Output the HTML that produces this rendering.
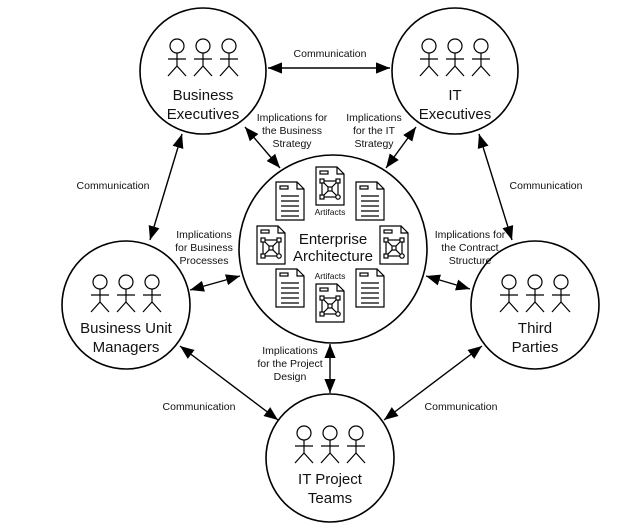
<!DOCTYPE html>
<html><head><meta charset="utf-8"><style>
html,body{margin:0;padding:0;background:#fff;}
svg{display:block;font-family:"Liberation Sans",sans-serif;}
</style></head><body>
<svg width="636" height="526" viewBox="0 0 636 526" xmlns="http://www.w3.org/2000/svg">
<defs>
<marker id="a" viewBox="0 0 10 10" refX="10" refY="5" markerWidth="10" markerHeight="10" orient="auto-start-reverse"><path d="M0,1 L10,5 L0,9z" fill="#000"/></marker>
<g id="p" fill="none" stroke="#000" stroke-width="1.2">
<circle cx="0" cy="-10" r="7"/><line x1="0" y1="-3" x2="0" y2="10"/><line x1="-9" y1="3" x2="9" y2="3"/><line x1="0" y1="10" x2="-9" y2="20"/><line x1="0" y1="10" x2="9" y2="20"/>
</g>
<g id="pp"><use href="#p" x="-26"/><use href="#p" x="0"/><use href="#p" x="26"/></g>
<g id="d" fill="none" stroke="#000" stroke-width="1.2">
<path d="M-14,-19 H7 L14,-12 V19 H-14Z" fill="#fff"/><path d="M7,-19 V-12 H14"/>
<rect x="-10" y="-15" width="8" height="3"/>
<line x1="-9" y1="-5" x2="9" y2="-5"/><line x1="-9" y1="0" x2="9" y2="0"/><line x1="-9" y1="5" x2="9" y2="5"/><line x1="-9" y1="10" x2="9" y2="10"/><line x1="-9" y1="15" x2="9" y2="15"/>
</g>
<g id="n" fill="none" stroke="#000" stroke-width="1.2">
<path d="M-14,-19 H7 L14,-12 V19 H-14Z" fill="#fff"/><path d="M7,-19 V-12 H14"/>
<rect x="-10" y="-15" width="8" height="3"/>
<rect x="-8" y="-5" width="16" height="16"/><line x1="-8" y1="-5" x2="8" y2="11"/><line x1="8" y1="-5" x2="-8" y2="11"/>
<rect x="-10" y="-7" width="4" height="4" fill="#fff"/><rect x="6" y="-7" width="4" height="4" fill="#fff"/><rect x="-10" y="9" width="4" height="4" fill="#fff"/><circle cx="8" cy="11" r="2.2" fill="#fff"/><rect x="-2" y="1" width="4" height="4" fill="#fff"/>
</g>
</defs>
<g fill="none" stroke="#000" stroke-width="1.6">
<circle cx="203" cy="71" r="63"/><circle cx="455" cy="71" r="63"/>
<circle cx="333" cy="249" r="94"/>
<circle cx="126" cy="305" r="64"/><circle cx="535" cy="305" r="64"/>
<circle cx="330" cy="458" r="64"/>
</g>
<g stroke="#000" stroke-width="1.4" marker-start="url(#a)" marker-end="url(#a)">
<line x1="268" y1="68" x2="390" y2="68"/>
<line x1="245" y1="127" x2="280" y2="168"/>
<line x1="416" y1="127" x2="386" y2="168"/>
<line x1="182" y1="134" x2="150" y2="240"/>
<line x1="479" y1="134" x2="512" y2="240"/>
<line x1="240" y1="276" x2="190" y2="290"/>
<line x1="426" y1="276" x2="470" y2="289"/>
<line x1="330" y1="344" x2="330" y2="393"/>
<line x1="180" y1="346" x2="278" y2="420"/>
<line x1="482" y1="346" x2="384" y2="420"/>
</g>
<use href="#pp" x="203" y="56"/><use href="#pp" x="455" y="56"/>
<use href="#pp" x="126" y="292"/><use href="#pp" x="535" y="292"/><use href="#pp" x="330" y="443"/>
<use href="#n" x="330" y="186"/><use href="#d" x="290" y="201"/><use href="#d" x="370" y="201"/>
<use href="#n" x="271" y="245"/><use href="#n" x="394" y="245"/>
<use href="#d" x="290" y="288"/><use href="#d" x="370" y="288"/><use href="#n" x="330" y="303"/>
<g text-anchor="middle" font-size="15" fill="#111">
<text x="203" y="100">Business</text><text x="203" y="119">Executives</text>
<text x="455" y="100">IT</text><text x="455" y="119">Executives</text>
<text x="333" y="244">Enterprise</text><text x="333" y="261">Architecture</text>
<text x="126" y="333">Business Unit</text><text x="126" y="352">Managers</text>
<text x="535" y="333">Third</text><text x="535" y="352">Parties</text>
<text x="330" y="484">IT Project</text><text x="330" y="503">Teams</text>
</g>
<g text-anchor="middle" font-size="10.5" fill="#111">
<text x="330" y="57">Communication</text>
<text x="113" y="189">Communication</text>
<text x="546" y="189">Communication</text>
<text x="199" y="410">Communication</text>
<text x="461" y="410">Communication</text>
<text x="292" y="121">Implications for</text><text x="292" y="134">the Business</text><text x="292" y="147">Strategy</text>
<text x="374" y="121">Implications</text><text x="374" y="134">for the IT</text><text x="374" y="147">Strategy</text>
<text x="204" y="238">Implications</text><text x="204" y="251">for Business</text><text x="204" y="264">Processes</text>
<text x="470" y="238">Implications for</text><text x="470" y="251">the Contract</text><text x="470" y="264">Structure</text>
<text x="290" y="354">Implications</text><text x="290" y="367">for the Project</text><text x="290" y="380">Design</text>
</g>
<g text-anchor="middle" font-size="8.5" fill="#111">
<text x="330" y="215">Artifacts</text><text x="330" y="279">Artifacts</text>
</g>
</svg>
</body></html>
